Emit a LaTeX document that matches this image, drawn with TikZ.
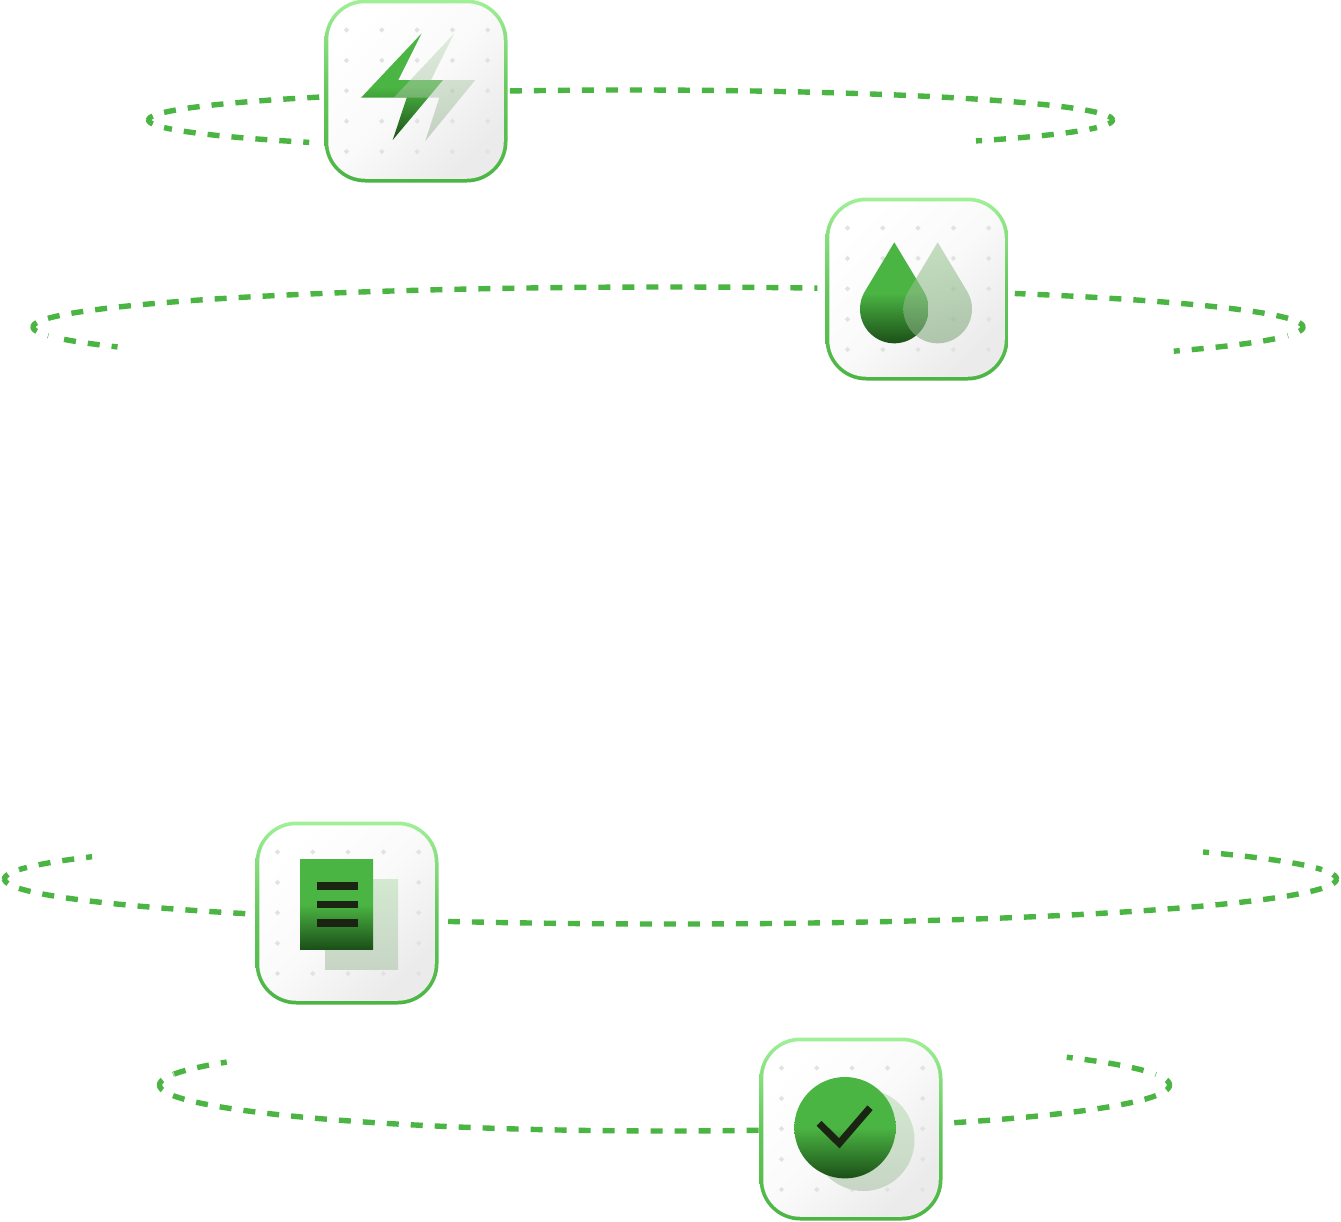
\documentclass[tikz,border=0pt]{standalone}
\usetikzlibrary{shapes.geometric}
\definecolor{brandgreen}{HTML}{4BB543}
\definecolor{ringlight}{HTML}{A0F097}
\definecolor{deepgreen}{HTML}{1B4F18}
\definecolor{inkdark}{HTML}{1B2313}
\definecolor{dotgrey}{HTML}{E2E2E2}
\definecolor{palebacktop}{HTML}{D3E9D0}
\definecolor{palebackbot}{HTML}{C7D5C5}
\definecolor{boltglasstop}{HTML}{C4DEC0}
\definecolor{boltglassbot}{HTML}{93B18F}
\definecolor{dropglasstop}{HTML}{9ECB96}
\definecolor{dropglassbot}{HTML}{84A880}
\tikzset{
  orbit/.style={draw=brandgreen,line width=5.4pt,dash pattern=on 12pt off 12pt,dash phase=6pt,line cap=butt},
  cardrim/.style={rounded corners=41pt,minimum width=183pt,minimum height=183pt,inner sep=0pt,draw=none,top color=ringlight,bottom color=brandgreen,middle color=brandgreen!70!ringlight},
  cardface/.style={rounded corners=37pt,minimum width=175.5pt,minimum height=175.5pt,inner sep=0pt,draw=none,left color=white,right color=black!8,middle color=black!2,shading angle=45},
  griddot/.style={fill=dotgrey,draw=none,diamond,aspect=1,minimum size=5.4pt,inner sep=0pt},
  leadshade/.style={draw=none,top color=brandgreen,bottom color=deepgreen,middle color=brandgreen},
  paleshade/.style={draw=none,top color=palebacktop,bottom color=palebackbot},
  boltglass/.style={draw=none,top color=boltglasstop,bottom color=boltglassbot,opacity=.5},
  dropglass/.style={draw=none,top color=dropglasstop,bottom color=dropglassbot,opacity=.6},
}
% centre x, centre y, x radius, y radius, start angle, end angle
\newcommand{\orbitarc}[6]{\draw[orbit] plot[domain=#5:#6,samples=200] ({#1+#3*cos(\x)},{#2+#4*sin(\x)});}
% card name, left, top
\newcommand{\iconcard}[3]{%
  \node[cardrim] (#1rim) at (#2+91,#3+91) {};
  \node[cardface] (#1) at (#2+91,#3+91) {};
  \foreach \gx in {0,...,4}{\foreach \gy in {0,...,4}{
    \node[griddot] (#1d\gx\gy) at (#2+21.5+35.3*\gx,#3+30+30.4*\gy) {};}}%
}
\begin{document}
\begin{tikzpicture}[x=1pt,y=-1pt]
\useasboundingbox (0,0) rectangle (1341,1221);
\fill[white] (0,0) rectangle (1341,1221);

% orbits: long run out of each tip, tip half-dash, run in from each free end
\orbitarc{630.5}{120}{482}{30}{180}{230.4}
\orbitarc{630.5}{120}{482}{30}{180}{165.4}
\orbitarc{630.5}{120}{482}{30}{131.8}{165.4}
\orbitarc{630.5}{120}{482}{30}{360}{254.5}
\orbitarc{630.5}{120}{482}{30}{360}{374.6}
\orbitarc{630.5}{120}{482}{30}{404.2}{374.6}

\orbitarc{668}{327}{635}{40}{180}{283.6}
\orbitarc{668}{327}{635}{40}{180}{167.4}
\orbitarc{668}{327}{635}{40}{150.1}{165.2}
\orbitarc{668}{327}{635}{40}{0}{-56.9}
\orbitarc{668}{327}{635}{40}{0}{12.6}
\orbitarc{668}{327}{635}{40}{37.2}{14.8}

\orbitarc{670.5}{879}{666}{45}{180}{129.6}
\orbitarc{670.5}{879}{666}{45}{180}{192.1}
\orbitarc{670.5}{879}{666}{45}{209.7}{192.1}
\orbitarc{670.5}{879}{666}{45}{0}{109.5}
\orbitarc{670.5}{879}{666}{45}{0}{-12.1}
\orbitarc{670.5}{879}{666}{45}{-36.9}{-12.1}

\orbitarc{664.5}{1085}{505}{46}{180}{79.2}
\orbitarc{664.5}{1085}{505}{46}{180}{193.5}
\orbitarc{664.5}{1085}{505}{46}{209.9}{193.5}
\orbitarc{664.5}{1085}{505}{46}{0}{55.7}
\orbitarc{664.5}{1085}{505}{46}{0}{-13.5}
\orbitarc{664.5}{1085}{505}{46}{-37.2}{-16}

% cards
\iconcard{power}{325}{0}
\iconcard{water}{826}{198}
\iconcard{paper}{256}{822}
\iconcard{check}{760}{1038}

% lightning
\shade[leadshade] (421.7,33.3) -- (398.3,80) -- (443,80) -- (392.7,140) -- (406.7,97.7) -- (361,97.7) -- cycle;
\shade[boltglass] (454.3,33.3) -- (431,80) -- (475.3,80) -- (425.3,141) -- (439.3,97.7) -- (393.7,97.7) -- cycle;

% drops
\shade[leadshade] (894.3,242.3) -- plot[domain=210.9:-30.9,samples=60] ({894.3+34.3*cos(\x)},{309+34.3*sin(\x)}) -- cycle;
\shade[dropglass] (937.7,242.3) -- plot[domain=210.9:-30.9,samples=60] ({937.7+34.3*cos(\x)},{309+34.3*sin(\x)}) -- cycle;

% document
\shade[paleshade] (325,879) rectangle (398,969);
\shade[leadshade] (300,859.3) rectangle (373,949.3);
\fill[inkdark] (317,882.3) rectangle (357.7,890.3);
\fill[inkdark] (317,900.6) rectangle (357.7,908.3);
\fill[inkdark] (317,919) rectangle (357.7,926.7);

% tick
\shade[paleshade] (863.5,1140) circle[radius=51];
\shade[leadshade] (845,1127.7) circle[radius=50.7];
\draw[inkdark,line width=7pt,line join=miter] (819,1123.3) -- (839.3,1143.3) -- (870,1107.7);
\end{tikzpicture}
\end{document}
